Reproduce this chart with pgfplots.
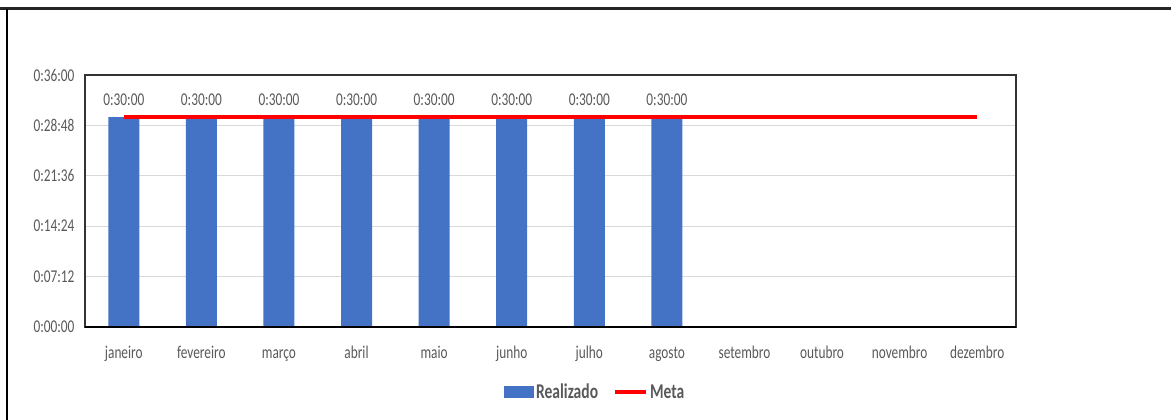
\documentclass[border=0pt]{standalone}
\usepackage{fontspec}
\setmainfont{Carlito}[FakeStretch=0.74]
\usepackage{pgfplots}
\pgfplotsset{compat=1.18}
\definecolor{barblue}{HTML}{4472C4}
\definecolor{txt}{HTML}{595959}
\definecolor{gridc}{HTML}{D9D9D9}
\definecolor{baseline}{HTML}{BFBFBF}
\begin{document}
\begin{tikzpicture}[x=1pt,y=1pt]
\useasboundingbox (0,0) rectangle (1171,-420);
\draw[line width=3pt, black!85] (0,-9) -- (1171,-9);
\draw[line width=2pt, black] (7,-9) -- (7,-420);
\begin{axis}[
  at={(85pt,-327pt)}, anchor=south west,
  scale only axis, width=931pt, height=252pt,
  xmin=-0.5, xmax=11.5, ymin=0, ymax=36,
  xtick={0,...,11},
  xticklabels={janeiro,fevereiro,março,abril,maio,junho,julho,agosto,setembro,outubro,novembro,dezembro},
  ytick={0,7.2,14.4,21.6,28.8,36},
  yticklabels={0:00:00,0:07:12,0:14:24,0:21:36,0:28:48,0:36:00},
  ymajorgrids, grid style={gridc, line width=1pt},
  major tick length=0pt,
  axis line style={black!80, line width=1.2pt},
  tick label style={font=\fontsize{18}{21}\selectfont, text=txt},
  xticklabel style={text height=9pt, text depth=3pt, yshift=-19pt},
  yticklabel style={xshift=-7pt},
  legend columns=2,
  legend style={draw=none, fill=none, at={(0.548,-0.258)}, anchor=center,
    font=\bfseries\fontsize{21}{25}\selectfont, text=txt,
    nodes={inner sep=2pt},
    /tikz/every even column/.append style={column sep=13pt}},
]
\addplot[ybar, bar width=31pt, fill=barblue, draw=none,
  point meta=explicit symbolic, nodes near coords,
  nodes near coords style={font=\fontsize{18}{21}\selectfont, text=txt, yshift=8pt},
  legend image code/.code={\fill[barblue] (0pt,-6pt) rectangle (30pt,6pt);}]
  coordinates {(0,30) [0:30:00] (1,30) [0:30:00] (2,30) [0:30:00] (3,30) [0:30:00]
               (4,30) [0:30:00] (5,30) [0:30:00] (6,30) [0:30:00] (7,30) [0:30:00]};
\addlegendentry{Realizado}
\addplot[red, line width=4pt, sharp plot, mark=none,
  legend image code/.code={\draw[red, line width=4pt] (0pt,0pt) -- (31pt,0pt);}]
  coordinates {(0,30) (1,30) (2,30) (3,30) (4,30) (5,30) (6,30) (7,30) (8,30) (9,30) (10,30) (11,30)};
\addlegendentry{Meta}
\draw[baseline, line width=2pt] (rel axis cs:0,0) -- (rel axis cs:1,0);
\end{axis}
\end{tikzpicture}
\end{document}
